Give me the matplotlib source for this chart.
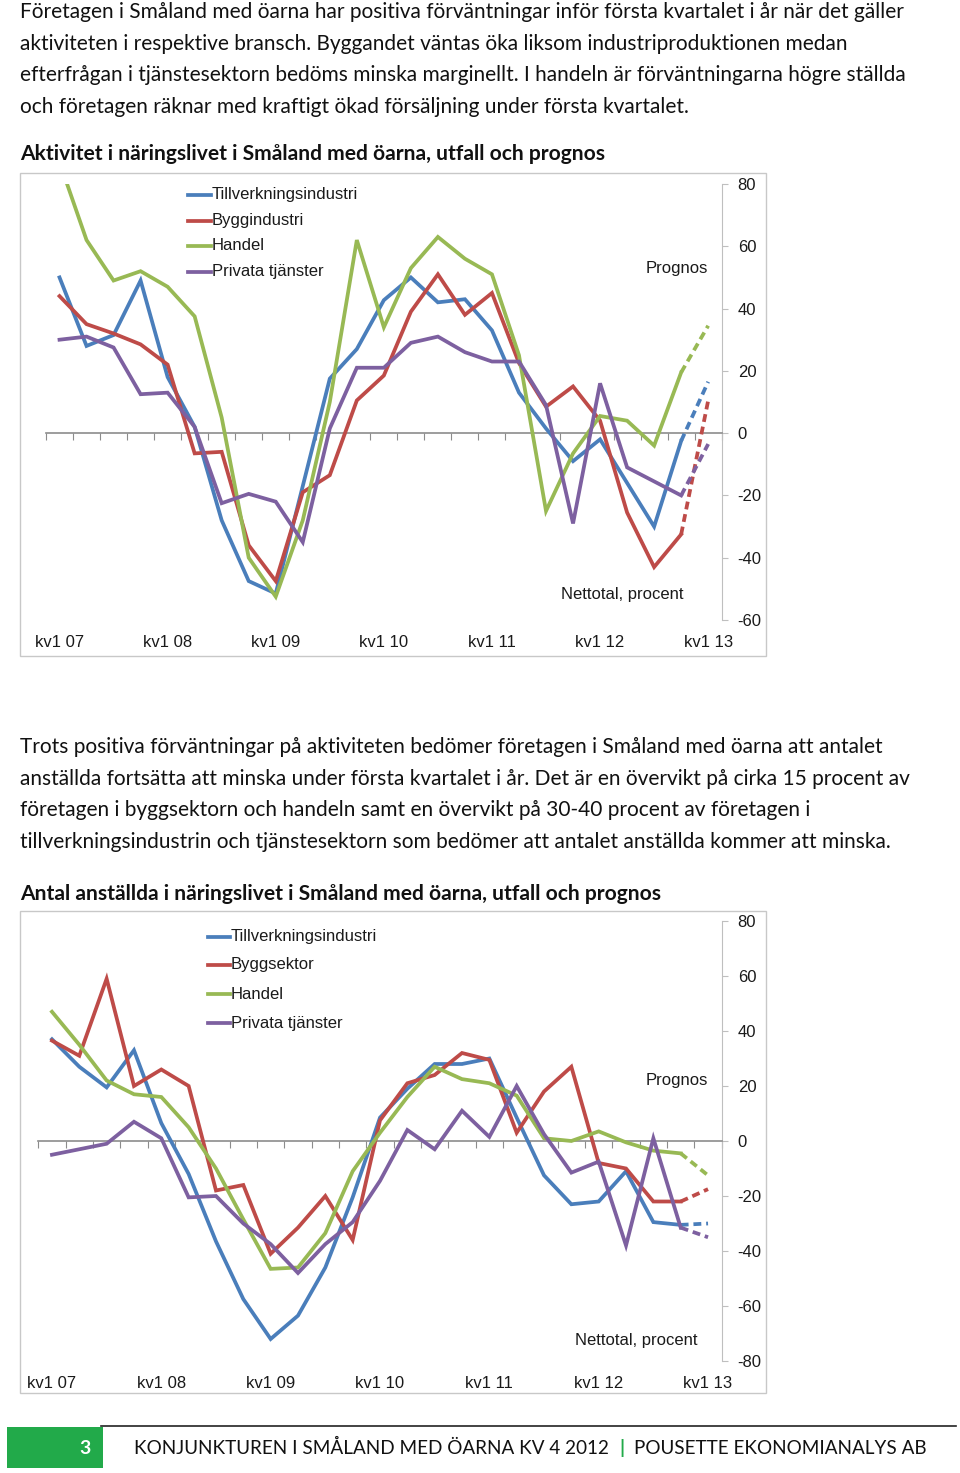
import numpy as np
import matplotlib
matplotlib.use("Agg")
import matplotlib.pyplot as plt
from matplotlib.lines import Line2D
from matplotlib.patches import Rectangle

plt.rcParams["font.family"] = ["Liberation Sans", "DejaVu Sans"]
plt.rcParams["axes.unicode_minus"] = False

W, H = 960, 1473

kvartal = np.arange(25)
kv_labels = ["kv1 07", "kv1 08", "kv1 09", "kv1 10", "kv1 11", "kv1 12", "kv1 13"]
kv_pos = [0, 4, 8, 12, 16, 20, 24]

# diagram 1: aktivitet, nettotal procent (sista punkten = prognos)
akt_namn = ["Tillverkningsindustri", "Byggindustri", "Handel", "Privata tjänster"]
akt_tillv = [50, 28, 31.5, 49, 18, 2, -28, -47.5, -51.5, -17, 17.5, 27, 42.7,
             50, 42, 43, 33, 13, 1.5, -9, -2, -16, -30, -2.5, 16.5]
akt_bygg = [44, 35, 32, 28.5, 22, -6.5, -6, -36, -47.5, -19, -13.5, 10.5, 18.5,
            39, 51, 38, 45, 22.5, 8.5, 15, 4, -25.5, -43, -32.5, 10.5]
akt_handel = [87, 62, 49, 52, 47, 37.5, 5, -40, -52.5, -28, 10, 62, 34,
              53, 63, 56, 51, 25, -25, -6.5, 5.5, 4, -4, 19.5, 34.5]
akt_tjanst = [30, 31, 27.5, 12.5, 13, 2, -22.5, -19.5, -22, -35, 1.5, 21, 21,
              29, 31, 26, 23, 23, 9, -29, 16, -11, -15.5, -20, -3.5]

# diagram 2: antal anställda
ans_namn = ["Tillverkningsindustri", "Byggsektor", "Handel", "Privata tjänster"]
ans_tillv = [37, 27, 19.5, 33, 6.5, -12, -36.5, -57.5, -72, -63.5, -46, -20.5, 8.5,
             19, 28, 28, 30, 8.5, -12.5, -23, -22, -11, -29.5, -30.5, -30]
ans_bygg = [36.5, 31, 59, 20, 26, 20, -18, -16, -41, -31.5, -20, -36, 7.5,
            21, 24, 32, 29.5, 3, 18, 27, -8, -10, -22, -22, -17.5]
ans_handel = [47, 35, 22, 17, 16, 5, -10, -28.5, -46.5, -46, -33.5, -11, 3,
              16, 27, 22.5, 21, 16.5, 1, 0, 3.5, -0.5, -3.5, -4.5, -12.5]
ans_tjanst = [-5, -3, -1, 7, 1, -20.5, -20, -30, -37.5, -48, -37.5, -29.5, -14.5,
              4, -3, 11, 1.5, 20, 2.5, -11.5, -7.5, -38, 1, -31.5, -35]

farger = ["#4A7EBB", "#BE4B48", "#98B954", "#7D60A0"]
grå = "#8C8C8C"
textfont = "Lato"
tsize = 15
lw = 2.7

stycke1 = [
    "Företagen i Småland med öarna har positiva förväntningar inför första kvartalet i år när det gäller",
    "aktiviteten i respektive bransch. Byggandet väntas öka liksom industriproduktionen medan",
    "efterfrågan i tjänstesektorn bedöms minska marginellt. I handeln är förväntningarna högre ställda",
    "och företagen räknar med kraftigt ökad försäljning under första kvartalet.",
]
rubrik1 = "Aktivitet i näringslivet i Småland med öarna, utfall och prognos"
stycke2 = [
    "Trots positiva förväntningar på aktiviteten bedömer företagen i Småland med öarna att antalet",
    "anställda fortsätta att minska under första kvartalet i år. Det är en övervikt på cirka 15 procent av",
    "företagen i byggsektorn och handeln samt en övervikt på 30-40 procent av företagen i",
    "tillverkningsindustrin och tjänstesektorn som bedömer att antalet anställda kommer att minska.",
]
rubrik2 = "Antal anställda i näringslivet i Småland med öarna, utfall och prognos"


def fx(x):
    return x / W


def fy(y):
    return 1 - y / H


fig = plt.figure(figsize=(W / 100, H / 100), dpi=100)


def text_block(rader, y0, rubrik, yr):
    for i, rad in enumerate(rader):
        fig.text(fx(20), fy(y0 + i * 31.7), rad, fontsize=tsize, family=textfont,
                 va="baseline", ha="left", color="#111111")
    fig.text(fx(20), fy(yr), rubrik, fontsize=tsize + 0.15, family=textfont,
             fontweight="bold", va="baseline", ha="left", color="#111111")


def diagram(ram, ax_px, ylim, serier, namn, leg_px, prognos_px, netto_px, label_base):
    x0, y0, x1, y1 = ram
    fig.add_artist(Rectangle((fx(x0), fy(y1)), fx(x1) - fx(x0), fy(y0) - fy(y1),
                             transform=fig.transFigure, fill=False,
                             edgecolor="#C8C8C8", linewidth=1.0))
    l, t, r, b = ax_px
    ax = fig.add_axes([fx(l), fy(b), fx(r) - fx(l), fy(t) - fy(b)])
    ax.set_xlim(-0.5, 24.5)
    ax.set_ylim(*ylim)
    for vals, c in zip(serier, farger):
        ax.plot(kvartal[:24], vals[:24], color=c, linewidth=lw,
                solid_joinstyle="miter", zorder=3)
        ax.plot(kvartal[23:], vals[23:], color=c, linewidth=lw,
                linestyle=(0, (2.1, 1.3)), zorder=3)
    for s in ["top", "left"]:
        ax.spines[s].set_visible(False)
    ax.spines["right"].set_color("#BFBFBF")
    ax.spines["bottom"].set_position(("data", 0))
    ax.spines["bottom"].set_color(grå)
    ax.spines["bottom"].set_linewidth(1.2)
    ax.set_xticks(np.arange(-0.5, 25, 1))
    ax.tick_params(axis="x", length=5, color=grå, labelbottom=False)
    ax.yaxis.tick_right()
    ax.set_yticks(np.arange(ylim[0], ylim[1] + 1, 20))
    ax.tick_params(axis="y", length=4, color="#BFBFBF", pad=7.5,
                   labelsize=12, labelcolor="#1a1a1a")
    frac = (b - label_base) / (b - t)
    for p, lab in zip(kv_pos, kv_labels):
        ax.text(p, frac, lab, transform=ax.get_xaxis_transform(), ha="center",
                va="baseline", fontsize=12, color="#1a1a1a")
    lx0, lx1, ltext, lys = leg_px
    for nm, c, yy in zip(namn, farger, lys):
        fig.add_artist(Line2D([fx(lx0), fx(lx1)], [fy(yy), fy(yy)],
                              transform=fig.transFigure, color=c, linewidth=lw))
        fig.text(fx(ltext), fy(yy), nm, fontsize=12,
                 va="center", ha="left", color="#1a1a1a")
    fig.text(fx(prognos_px[0]), fy(prognos_px[1]), "Prognos", fontsize=12,
             ha="center", va="center", color="#1a1a1a")
    fig.text(fx(netto_px[0]), fy(netto_px[1]), "Nettotal, procent", fontsize=12,
             ha="center", va="center", color="#1a1a1a")
    return ax


text_block(stycke1, 18, rubrik1, 160)
diagram((20, 173, 766, 656), (46, 184, 721.7, 620), (-60, 80),
        [akt_tillv, akt_bygg, akt_handel, akt_tjanst], akt_namn,
        (188, 211, 212, [195, 220.7, 246, 271.7]), (677, 269), (622, 595), 647)

text_block(stycke2, 753, rubrik2, 900)
diagram((20, 911, 766, 1393), (38.3, 921, 721.7, 1361), (-80, 80),
        [ans_tillv, ans_bygg, ans_handel, ans_tjanst], ans_namn,
        (208, 230, 231, [936.7, 965, 994.3, 1023.3]), (677, 1081), (636, 1341), 1388)

# sidfot
fig.add_artist(Line2D([fx(101), fx(956)], [fy(1426), fy(1426)],
                      transform=fig.transFigure, color="#222222", linewidth=1.2))
fig.add_artist(Rectangle((fx(7), fy(1468)), fx(103) - fx(7), fy(1427) - fy(1468),
                         transform=fig.transFigure, color="#22AA4A", linewidth=0))
fig.text(fx(85), fy(1448), "3", fontsize=14, family=textfont, fontweight="bold",
         color="white", ha="center", va="center")
fig.text(fx(134), fy(1448), "KONJUNKTUREN I SMÅLAND MED ÖARNA KV 4 2012",
         fontsize=13.6, family=textfont, ha="left", va="center", color="#111111")
fig.text(fx(622), fy(1448), "|", fontsize=14, family=textfont, fontweight="bold",
         ha="center", va="center", color="#22AA4A")
fig.text(fx(634), fy(1448), "POUSETTE EKONOMIANALYS AB",
         fontsize=13.6, family=textfont, ha="left", va="center", color="#111111")

fig.savefig("out.png", dpi=100)
